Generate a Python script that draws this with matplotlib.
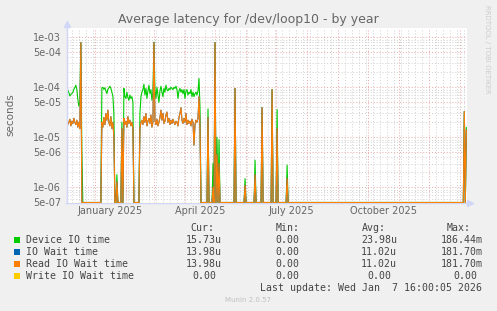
import matplotlib
matplotlib.use('Agg')
import numpy as np
import pandas as pd
import matplotlib.pyplot as plt
import matplotlib.dates as mdates
from matplotlib.patches import Rectangle

# one sample per day, Dec 4 2024 .. Jan 7 2026
days = pd.date_range('2024-12-04', periods=400, freq='D')

# busy stretches (first day, device io time, read io wait time)
seg_a_start = '2024-12-04'
seg_a_device = [8.5e-05, 8.8e-05, 7.9e-05, 6.7e-05, 7.2e-05, 7.5e-05, 7.9e-05, 9.1e-05,
                9.9e-05, 1.1e-04, 9.1e-05, 5.7e-05, 4.2e-05, 5.0e-05, 7.9e-04, 5.0e-06]
seg_a_read = [2.2e-05, 1.8e-05, 2.0e-05, 2.3e-05, 1.7e-05, 2.1e-05, 1.9e-05, 2.4e-05,
              2.0e-05, 1.8e-05, 2.2e-05, 1.6e-05, 2.0e-05, 1.5e-05, 7.8e-04, 0.0]

seg_b_start = '2025-01-08'
seg_b_device = [9.8e-05, 1.0e-04, 9.1e-05, 9.8e-05, 8.5e-05, 7.5e-05, 9.1e-05, 9.8e-05,
                1.05e-04, 9.5e-05, 8.0e-05, 6.7e-05, 2.9e-05]
seg_b_read = [2.0e-05, 1.6e-05, 2.5e-05, 1.8e-05, 3.0e-05, 2.2e-05, 3.5e-05, 2.0e-05,
              1.7e-05, 2.6e-05, 1.5e-05, 2.0e-05, 1.0e-05]

seg_c_start = '2025-01-30'
seg_c_device = [9.5e-05, 6.5e-05, 6.0e-05, 8.0e-05, 6.2e-05, 5.5e-05, 7.0e-05, 6.0e-05,
                6.5e-05, 5.0e-05]
seg_c_read = [2.4e-05, 1.8e-05, 2.1e-05, 1.6e-05, 2.6e-05, 1.9e-05, 2.2e-05, 1.7e-05,
              2.0e-05, 1.5e-05]

seg_d_start = '2025-02-15'
seg_d_device = [3.0e-05, 6.5e-05, 8.0e-05, 9.0e-05, 1.15e-04, 7.0e-05, 9.5e-05, 6.0e-05,
                8.5e-05, 1.1e-04, 7.5e-05, 9.0e-05, 5.5e-05, 8.0e-05, 8.0e-04, 9.0e-05,
                6.0e-05, 1.0e-04, 7.0e-05, 5.0e-05, 8.5e-05, 1.05e-04, 8.0e-05, 6.5e-05,
                9.5e-05, 8.0e-05, 1.1e-04, 9.0e-05, 8.5e-05, 9.5e-05, 9.0e-05, 1.0e-04,
                9.5e-05, 9.0e-05, 1.0e-04, 9.5e-05, 1.05e-04, 9.0e-05, 6.0e-05, 8.5e-05,
                9.5e-05, 8.0e-05, 9.0e-05, 7.5e-05, 9.0e-05, 6.0e-05, 8.5e-05, 9.0e-05,
                7.0e-05, 8.0e-05, 7.5e-05, 9.0e-05, 6.5e-05, 8.0e-05, 6.5e-05, 7.5e-05,
                8.0e-05, 7.0e-05, 8.5e-05, 1.5e-04, 4.0e-05]
seg_d_read = [1.5e-05, 2.0e-05, 2.2e-05, 1.8e-05, 2.6e-05, 2.0e-05, 3.0e-05, 1.7e-05,
              2.1e-05, 2.4e-05, 1.9e-05, 2.8e-05, 1.6e-05, 2.0e-05, 7.8e-04, 2.2e-05,
              1.8e-05, 2.3e-05, 1.7e-05, 2.0e-05, 2.5e-05, 3.5e-05, 2.2e-05, 3.0e-05,
              1.9e-05, 2.1e-05, 2.8e-05, 3.2e-05, 2.0e-05, 2.4e-05, 1.8e-05, 2.2e-05,
              1.9e-05, 2.3e-05, 2.0e-05, 1.8e-05, 2.1e-05, 2.0e-05, 1.7e-05, 2.5e-05,
              3.0e-05, 3.9e-05, 2.2e-05, 1.9e-05, 2.4e-05, 2.0e-05, 3.0e-05, 1.8e-05,
              2.2e-05, 1.9e-05, 2.1e-05, 1.7e-05, 2.3e-05, 2.0e-05, 7.0e-06, 1.8e-05,
              2.2e-05, 2.0e-05, 2.4e-05, 6.5e-05, 1.5e-05]

# single busy days
spike_days = ['2025-01-23', '2025-01-28', '2025-04-24', '2025-04-29', '2025-05-01',
              '2025-05-03', '2025-05-05', '2025-05-21', '2025-05-31', '2025-06-10',
              '2025-06-17', '2025-06-27', '2025-07-02', '2025-07-12', '2026-01-05',
              '2026-01-07']
spike_device = [1.8e-06, 2.0e-05, 3.7e-05, 3.0e-06, 7.9e-04, 1.0e-05, 9.0e-06, 9.5e-05,
                1.5e-06, 3.5e-06, 3.9e-05, 9.0e-05, 3.6e-05, 2.8e-06, 3.3e-05, 1.573e-05]
spike_read = [1.3e-06, 1.5e-05, 2.5e-05, 1.0e-06, 7.8e-04, 4.5e-06, 3.0e-06, 9.5e-05,
              1.1e-06, 1.8e-06, 3.9e-05, 9.0e-05, 1.5e-05, 1.5e-06, 3.3e-05, 1.398e-05]

series_names = ['Device IO time', 'IO Wait time', 'Read IO Wait time', 'Write IO Wait time']
series_colors = ['#00cc00', '#0066b3', '#ff8000', '#ffcc00']
cur_vals = ['15.73u', '13.98u', '13.98u', '0.00']
min_vals = ['0.00', '0.00', '0.00', '0.00']
avg_vals = ['23.98u', '11.02u', '11.02u', '0.00']
max_vals = ['186.44m', '181.70m', '181.70m', '0.00']

ytick_vals = [1e-03, 5e-04, 1e-04, 5e-05, 1e-05, 5e-06, 1e-06, 5e-07]
ytick_labels = ['1e-03', '5e-04', '1e-04', '5e-05', '1e-05', '5e-06', '1e-06', '5e-07']
xlabel_days = ['2025-01-16', '2025-04-16', '2025-07-16', '2025-10-16']
xlabel_text = ['January 2025', 'April 2025', 'July 2025', 'October 2025']

device = np.zeros(len(days))
read = np.zeros(len(days))
for start, dv, rd in [(seg_a_start, seg_a_device, seg_a_read),
                      (seg_b_start, seg_b_device, seg_b_read),
                      (seg_c_start, seg_c_device, seg_c_read),
                      (seg_d_start, seg_d_device, seg_d_read)]:
    i = days.get_loc(pd.Timestamp(start))
    device[i:i + len(dv)] = dv
    read[i:i + len(rd)] = rd
for d, dv, rd in zip(spike_days, spike_device, spike_read):
    i = days.get_loc(pd.Timestamp(d))
    device[i] = dv
    read[i] = rd
io_wait = read.copy()
write = np.zeros(len(days))

W, H = 497, 311
def fx(px):
    return px / W
def fy(py):
    return 1 - py / H

FONT = '#666666'
fig = plt.figure(figsize=(W / 100, H / 100), dpi=100, facecolor='#f0f0f0')
ax = fig.add_axes([fx(66.5), fy(202.5), (467 - 66.5) / W, (202.5 - 28) / H])
ax.set_facecolor('white')
ax.set_yscale('log')
ymin, ymax = 5e-07, 1.53e-03
ax.set_ylim(ymin, ymax)
ax.set_xlim(pd.Timestamp('2024-12-03 16:00'), pd.Timestamp('2026-01-07 16:00'))

# grid
ax.set_yticks(ytick_vals)
ax.set_yticklabels(ytick_labels)
minor_y = [m * 10.0 ** e for e in range(-7, -2) for m in (1, 2, 3, 4, 6, 7, 8, 9)]
minor_y = [v for v in minor_y if ymin < v < ymax and v not in ytick_vals]
ax.yaxis.set_minor_locator(matplotlib.ticker.FixedLocator(minor_y))
ax.yaxis.set_minor_formatter(matplotlib.ticker.NullFormatter())
ax.xaxis.set_major_locator(mdates.MonthLocator())
ax.xaxis.set_minor_locator(mdates.WeekdayLocator(byweekday=mdates.MO))
ax.xaxis.set_major_formatter(matplotlib.ticker.NullFormatter())
ax.grid(which='minor', color='#d0d0d0', linestyle=(0, (1, 2)), linewidth=0.7)
ax.grid(which='major', color='#eaa8a8', linestyle=(0, (1, 2)), linewidth=0.7)
ax.set_axisbelow(True)
ax.tick_params(which='both', length=0)
ax.tick_params(axis='y', labelsize=7, labelcolor=FONT, pad=4)
for s in ax.spines.values():
    s.set_visible(False)

for lbl_day, lbl in zip(xlabel_days, xlabel_text):
    ax.text(pd.Timestamp(lbl_day), -0.05, lbl, transform=ax.get_xaxis_transform(),
            ha='center', va='center', fontsize=7, color=FONT)

# series, zero values sit on the bottom edge like rrdtool does
for vals, c in zip([device, io_wait, read, write], series_colors):
    ax.plot(days, np.maximum(vals, ymin), color=c, linewidth=0.8)

# axis lines and arrows
axis_c = '#cfd6f8'
fig.add_artist(plt.Line2D([fx(66.5), fx(66.5)], [fy(203), fy(24)], color=axis_c, lw=1))
fig.add_artist(plt.Line2D([fx(66), fx(470)], [fy(203), fy(203)], color=axis_c, lw=1, zorder=0))
fig.add_artist(plt.Line2D([fx(66.5)], [fy(24)], marker='^', ms=4, color=axis_c, lw=0))
fig.add_artist(plt.Line2D([fx(470)], [fy(203)], marker='>', ms=4, color=axis_c, lw=0))

fig.text(0.5, fy(19), 'Average latency for /dev/loop10 - by year', ha='center', va='center',
         fontsize=9, color=FONT)
fig.text(fx(10), fy(115), 'seconds', rotation=90, ha='center', va='center', fontsize=7.5, color=FONT)
fig.text(fx(487), fy(5), 'RRDTOOL / TOBI OETIKER', rotation=270, ha='center', va='top',
         fontsize=5, color='#cccccc')

# legend block
mono = 'DejaVu Sans Mono'
LC = '#444444'
fs = 7.1
for txt, x in [('Cur:', 190), ('Min:', 276), ('Avg:', 362), ('Max:', 447)]:
    fig.text(fx(x), fy(228.3), txt, family=mono, fontsize=fs, color=LC, va='center')
for i, (name, c) in enumerate(zip(series_names, series_colors)):
    yy = 239.7 + 12 * i
    fig.add_artist(Rectangle((fx(14), fy(yy + 3)), 6 / W, 6 / H, transform=fig.transFigure,
                             facecolor=c, edgecolor='none'))
    fig.text(fx(26), fy(yy), name, family=mono, fontsize=fs, color=LC, va='center')
    for vals, right in [(cur_vals, 222), (min_vals, 305), (avg_vals, 397), (max_vals, 483)]:
        v = vals[i]
        r = right if v[-1] in 'um' else right - 6
        fig.text(fx(r), fy(yy), v, family=mono, fontsize=fs, color=LC, va='center', ha='right')
fig.text(fx(482), fy(287.7), 'Last update: Wed Jan  7 16:00:05 2026', family=mono, fontsize=fs,
         color=LC, va='center', ha='right')
fig.text(fx(248), fy(300), 'Munin 2.0.57', ha='center', va='center', fontsize=5, color='#c0c0c0')

fig.savefig('out.png', dpi=100, facecolor=fig.get_facecolor())
